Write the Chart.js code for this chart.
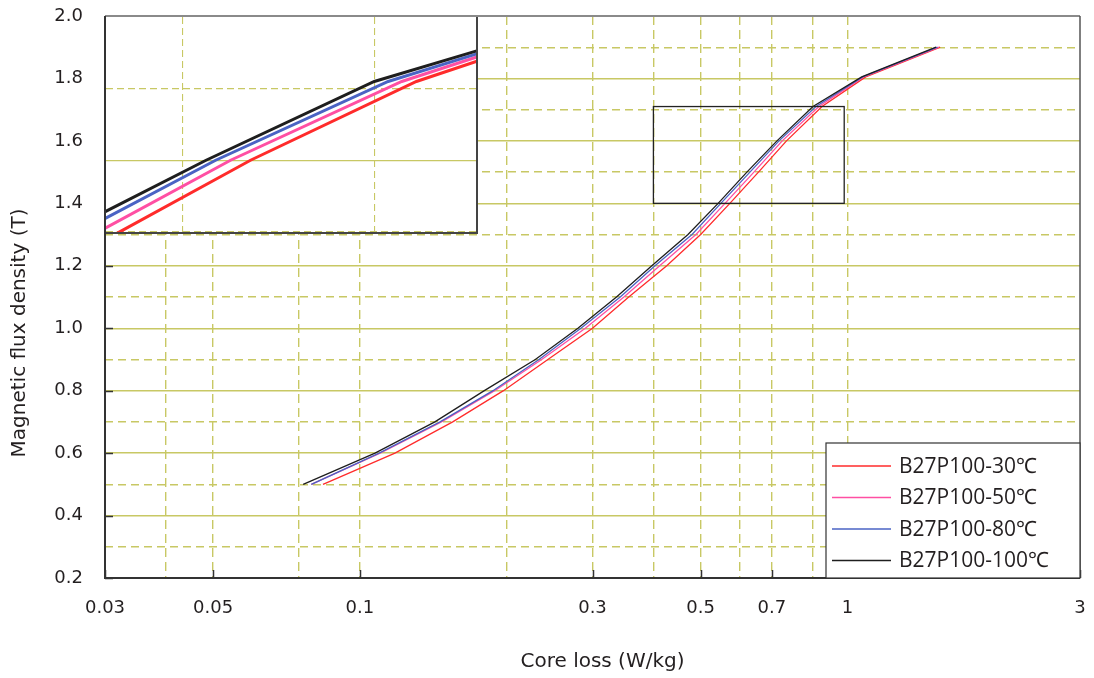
<!DOCTYPE html>
<html>
<head>
<meta charset="utf-8">
<script src="https://cdn.jsdelivr.net/npm/chart.js@4.4.0/dist/chart.umd.min.js"></script>
<style>
  body { margin: 0; background: #fff; }
  #wrap { position: relative; width: 1094px; height: 678px; }
  #inset { position: absolute; background: #fff; }
</style>
</head>
<body>
<div id="wrap">
  <canvas id="mainChart" width="1094" height="678"></canvas>
  <canvas id="inset"></canvas>
</div>
<script>
// series names (legend)
const seriesNames = ["B27P100-30℃", "B27P100-50℃", "B27P100-80℃", "B27P100-100℃"];

// flux density levels (T), shared by all curves
const fluxDensity = [0.5, 0.6, 0.7, 0.8, 0.9, 1.0, 1.1, 1.2, 1.3, 1.4, 1.5, 1.6, 1.71, 1.805, 1.9];

// core loss (W/kg) at each flux level
const loss30 = [0.084, 0.118, 0.155, 0.197, 0.243, 0.300, 0.356, 0.426, 0.500, 0.574, 0.657, 0.750, 0.887, 1.09, 1.55];
const loss50 = [0.0795, 0.110, 0.147, 0.189, 0.236, 0.290, 0.348, 0.412, 0.489, 0.561, 0.643, 0.735, 0.874, 1.08, 1.54];
const loss80 = [0.0795, 0.1095, 0.146, 0.1875, 0.233, 0.284, 0.342, 0.403, 0.480, 0.550, 0.631, 0.724, 0.862, 1.075, 1.53];
const loss100 = [0.0765, 0.1074, 0.1425, 0.180, 0.229, 0.280, 0.336, 0.397, 0.471, 0.543, 0.622, 0.717, 0.850, 1.07, 1.52];

// axis grid / labels
const xGridValues = [0.03, 0.04, 0.05, 0.075, 0.1, 0.2, 0.3, 0.4, 0.5, 0.6, 0.7, 0.85, 1, 3];
const xTickLabels = ["0.03", "0.05", "0.1", "0.3", "0.5", "0.7", "1", "3"];
const yGridValues = [0.2, 0.3, 0.4, 0.5, 0.6, 0.7, 0.8, 0.9, 1.0, 1.1, 1.2, 1.3, 1.4, 1.5, 1.6, 1.7, 1.8, 1.9, 2.0];
const yTickLabels = ["0.2", "0.4", "0.6", "0.8", "1.0", "1.2", "1.4", "1.6", "1.8", "2.0"];

// zoom window marked on the main plot, and the range shown in the inset
const zoomBox = { xMin: 0.4, xMax: 0.985, yMin: 1.4, yMax: 1.71 };
const insetRange = { xMin: 0.648, xMax: 0.944, yMin: 1.497, yMax: 1.8 };

const lossSeries = [loss30, loss50, loss80, loss100];
const colors = ['#ff2b2b', '#ff4fa3', '#4a63c4', '#1e1e1e'];
const gridColor = '#c8c864';
const textColor = '#231f20';
const family = 'DejaVu Sans';

function oddTenth(v) {
    return Math.round(v * 10) % 2 === 1;
}

function noPadding(s) {
    s.paddingTop = 0;
    s.paddingBottom = 0;
    s.paddingLeft = 0;
    s.paddingRight = 0;
}

function makeDatasets(width) {
    return seriesNames.map((name, i) => ({
        label: name,
        data: fluxDensity.map((b, j) => ({ x: lossSeries[i][j], y: b })),
        borderColor: colors[i],
        backgroundColor: colors[i],
        borderWidth: width,
        pointRadius: 0,
        tension: 0,
        order: 3 - i
    }));
}

const decor = {
    id: 'decor',
    afterDatasetsDraw(chart) {
        const { ctx, chartArea: a, scales: { x, y } } = chart;
        ctx.save();

        // zoom window
        const x1 = x.getPixelForValue(zoomBox.xMin);
        const x2 = x.getPixelForValue(zoomBox.xMax);
        const y1 = y.getPixelForValue(zoomBox.yMax);
        const y2 = y.getPixelForValue(zoomBox.yMin);
        ctx.strokeStyle = '#222';
        ctx.lineWidth = 1.3;
        ctx.strokeRect(x1, y1, x2 - x1, y2 - y1);

        // inner tick marks
        ctx.strokeStyle = '#333';
        ctx.lineWidth = 1.5;
        ctx.beginPath();
        xTickLabels.forEach(l => {
            const px = Math.round(x.getPixelForValue(Number(l))) + 0.5;
            ctx.moveTo(px, a.bottom);
            ctx.lineTo(px, a.bottom - 8);
        });
        yTickLabels.forEach(l => {
            const py = Math.round(y.getPixelForValue(Number(l))) + 0.5;
            ctx.moveTo(a.left, py);
            ctx.lineTo(a.left + 8, py);
        });
        ctx.stroke();

        // frame
        ctx.lineWidth = 2;
        ctx.strokeStyle = '#8a8a8a';
        ctx.beginPath(); ctx.moveTo(a.left, a.top); ctx.lineTo(a.right, a.top); ctx.stroke();
        ctx.strokeStyle = '#555';
        ctx.lineWidth = 1.5;
        ctx.beginPath(); ctx.moveTo(a.right, a.top); ctx.lineTo(a.right, a.bottom); ctx.stroke();
        ctx.strokeStyle = '#333';
        ctx.lineWidth = 2;
        ctx.beginPath(); ctx.moveTo(a.left, a.top); ctx.lineTo(a.left, a.bottom); ctx.lineTo(a.right, a.bottom); ctx.stroke();

        // legend
        const bw = 254, bh = 135;
        const bx = a.right - bw, by = a.bottom - bh;
        ctx.fillStyle = '#fff';
        ctx.fillRect(bx, by, bw, bh);
        ctx.strokeStyle = '#333';
        ctx.lineWidth = 1.2;
        ctx.strokeRect(bx, by, bw, bh);
        ctx.font = '21px "Open Sans"';
        ctx.textBaseline = 'middle';
        ctx.textAlign = 'left';
        chart.data.datasets.forEach((ds, i) => {
            const cy = by + 23 + i * 31.5;
            ctx.strokeStyle = ds.borderColor;
            ctx.lineWidth = 1.5;
            ctx.beginPath(); ctx.moveTo(bx + 6, cy); ctx.lineTo(bx + 65, cy); ctx.stroke();
            ctx.fillStyle = textColor;
            ctx.fillText(ds.label, bx + 73, cy + 1);
        });

        // axis titles
        ctx.fillStyle = textColor;
        ctx.font = '20px ' + family;
        ctx.textAlign = 'center';
        ctx.fillText('Core loss (W/kg)', (a.left + a.right) / 2 + 10, 662);
        ctx.translate(20, (a.top + a.bottom) / 2 + 36);
        ctx.rotate(-Math.PI / 2);
        ctx.fillText('Magnetic flux density (T)', 0, 0);
        ctx.restore();
    }
};

const mainChart = new Chart(document.getElementById('mainChart'), {
    type: 'line',
    data: { datasets: makeDatasets(1.3) },
    options: {
        responsive: false,
        animation: false,
        devicePixelRatio: 1,
        layout: { padding: { top: 16, right: 14, left: 0, bottom: 0 } },
        plugins: { legend: { display: false }, tooltip: { enabled: false } },
        scales: {
            x: {
                type: 'logarithmic',
                min: 0.03,
                max: 3,
                afterBuildTicks: s => { s.ticks = xGridValues.map(v => ({ value: v })); },
                afterFit: s => { s.height = 100; noPadding(s); },
                grid: {
                    color: c => (c.tick && (c.tick.value <= 0.03 || c.tick.value >= 3)) ? 'rgba(0,0,0,0)' : gridColor,
                    lineWidth: 1.4,
                    drawTicks: false
                },
                border: { display: false, dash: c => c.tick ? [9, 5] : [] },
                ticks: {
                    autoSkip: false,
                    maxRotation: 0,
                    padding: 20,
                    color: textColor,
                    font: { family: family, size: 18 },
                    callback: v => xTickLabels.find(l => Math.abs(Number(l) - v) < 1e-9) || ''
                }
            },
            y: {
                min: 0.2,
                max: 2.0,
                afterBuildTicks: s => { s.ticks = yGridValues.map(v => ({ value: v })); },
                afterFit: s => { s.width = 105; noPadding(s); },
                grid: {
                    color: c => (c.tick && (c.tick.value <= 0.2 || c.tick.value >= 2.0)) ? 'rgba(0,0,0,0)' : gridColor,
                    lineWidth: 1.4,
                    drawTicks: false
                },
                border: { display: false, dash: c => (c.tick && oddTenth(c.tick.value)) ? [8, 5] : [] },
                ticks: {
                    padding: 22,
                    color: textColor,
                    font: { family: family, size: 18 },
                    callback: v => yTickLabels.includes(v.toFixed(1)) ? v.toFixed(1) : ''
                }
            }
        }
    },
    plugins: [decor]
});

// inset: enlarged view of the zoom window
const area = mainChart.chartArea;
const insetCanvas = document.getElementById('inset');
insetCanvas.width = 372;
insetCanvas.height = 217;
insetCanvas.style.left = (area.left + 1) + 'px';
insetCanvas.style.top = (area.top + 1) + 'px';

const insetFrame = {
    id: 'insetFrame',
    afterDraw(chart) {
        const { ctx, width, height } = chart;
        ctx.save();
        ctx.strokeStyle = '#444';
        ctx.lineWidth = 2;
        ctx.beginPath();
        ctx.moveTo(width - 1, 0);
        ctx.lineTo(width - 1, height - 1);
        ctx.lineTo(0, height - 1);
        ctx.stroke();
        ctx.restore();
    }
};

new Chart(insetCanvas, {
    type: 'line',
    data: { datasets: makeDatasets(3) },
    options: {
        responsive: false,
        animation: false,
        devicePixelRatio: 1,
        layout: { padding: 0 },
        plugins: { legend: { display: false }, tooltip: { enabled: false } },
        scales: {
            x: {
                type: 'logarithmic',
                min: insetRange.xMin,
                max: insetRange.xMax,
                afterBuildTicks: s => {
                    s.ticks = xGridValues.filter(v => v > insetRange.xMin && v < insetRange.xMax).map(v => ({ value: v }));
                },
                afterFit: s => { s.height = 0; noPadding(s); },
                grid: { color: gridColor, lineWidth: 1.1, drawTicks: false },
                border: { display: false, dash: c => c.tick ? [7, 4] : [] },
                ticks: { display: false }
            },
            y: {
                min: insetRange.yMin,
                max: insetRange.yMax,
                afterBuildTicks: s => {
                    s.ticks = yGridValues.filter(v => v > insetRange.yMin && v < insetRange.yMax).map(v => ({ value: v }));
                },
                afterFit: s => { s.width = 0; noPadding(s); },
                grid: { color: gridColor, lineWidth: 1.2, drawTicks: false },
                border: { display: false, dash: c => (c.tick && oddTenth(c.tick.value)) ? [7, 4] : [] },
                ticks: { display: false }
            }
        }
    },
    plugins: [insetFrame]
});
</script>
</body>
</html>
